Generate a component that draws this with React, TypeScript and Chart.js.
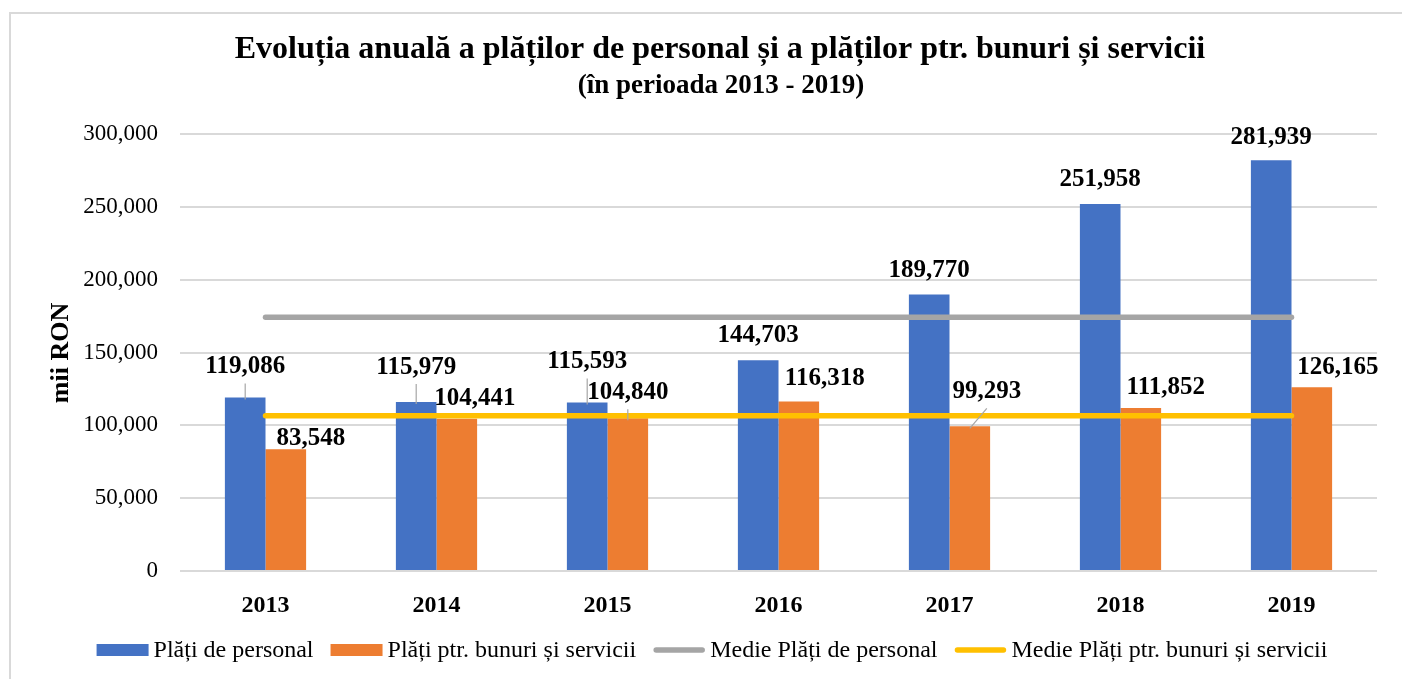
import React, { useEffect, useRef } from "react";
import { Chart, registerables } from "chart.js";

Chart.register(...registerables);

// ---- data ----
const years = ["2013", "2014", "2015", "2016", "2017", "2018", "2019"];
const platiPersonal = [119086, 115979, 115593, 144703, 189770, 251958, 281939];
const platiBunuri = [83548, 104441, 104840, 116318, 99293, 111852, 126165];
const mediePersonal = [174147, 174147, 174147, 174147, 174147, 174147, 174147];
const medieBunuri = [106637, 106637, 106637, 106637, 106637, 106637, 106637];
const yMin = 0;
const yMax = 300000;
const yStep = 50000;

const seriesNames = [
  "Plăți de personal",
  "Plăți ptr. bunuri și servicii",
  "Medie Plăți de personal",
  "Medie Plăți ptr. bunuri și servicii",
];
const titleText = "Evoluția anuală a plăților de personal și a plăților ptr. bunuri și servicii";
const subtitleText = "(în perioada 2013 - 2019)";
const yAxisTitle = "mii RON";

// ---- styles ----
const FONT = '"Liberation Serif", "Times New Roman", serif';
const colors = ["#4472C4", "#ED7D31", "#A5A5A5", "#FFC000"];

// label placement tweaks (pixels, relative to default position above bar)
const labelOffsets = [
  {
    dx: [0, 0, 0, 0, 0, 0, 0],
    dy: [-8, -12, -18, -2, -1, -1, 0],
    leader: [true, true, true, false, false, false, false],
  },
  {
    dx: [25, 18, 0, 26, 17, 25, 26],
    dy: [12, 3, -3, 0, -12, 2, 3],
    leader: [false, false, true, false, true, false, false],
  },
];

const fmt = (v: number) => Number(v).toLocaleString("en-US");

const decorPlugin = {
  id: "decor",
  beforeDraw(chart: any) {
    const ctx = chart.ctx as CanvasRenderingContext2D;
    ctx.save();
    ctx.fillStyle = "#ffffff";
    ctx.fillRect(0, 0, chart.width, chart.height);
    // frame
    ctx.strokeStyle = "#d9d9d9";
    ctx.lineWidth = 2;
    ctx.beginPath();
    ctx.moveTo(10, chart.height + 5);
    ctx.lineTo(10, 13);
    ctx.lineTo(chart.width + 5, 13);
    ctx.stroke();
    ctx.restore();
  },
  afterDraw(chart: any) {
    const ctx = chart.ctx as CanvasRenderingContext2D;
    ctx.save();
    ctx.fillStyle = "#000";
    ctx.textAlign = "center";
    ctx.textBaseline = "middle";
    // titles
    ctx.font = `bold 32px ${FONT}`;
    ctx.fillText(titleText, 720, 50);
    ctx.font = `bold 27px ${FONT}`;
    ctx.fillText(subtitleText, 721, 86);
    // y axis title
    ctx.save();
    ctx.translate(61, 353);
    ctx.rotate(-Math.PI / 2);
    ctx.font = `bold 26px ${FONT}`;
    ctx.fillText(yAxisTitle, 0, 0);
    ctx.restore();

    // legend
    ctx.font = `24px ${FONT}`;
    const boxW = 52;
    const gapText = 5;
    const gapItem = 17;
    const widths = seriesNames.map((n) => ctx.measureText(n).width);
    const total =
      widths.reduce((a, b) => a + b, 0) + seriesNames.length * (boxW + gapText) + (seriesNames.length - 1) * gapItem;
    let x = 712 - total / 2;
    const ly = 650;
    ctx.textAlign = "left";
    seriesNames.forEach((name, i) => {
      if (i < 2) {
        ctx.fillStyle = colors[i];
        ctx.fillRect(x, ly - 6, boxW, 12);
      } else {
        ctx.strokeStyle = colors[i];
        ctx.lineWidth = 5.5;
        ctx.lineCap = "round";
        ctx.beginPath();
        ctx.moveTo(x + 3, ly);
        ctx.lineTo(x + boxW - 3, ly);
        ctx.stroke();
      }
      x += boxW + gapText;
      ctx.fillStyle = "#000";
      ctx.fillText(name, x, ly + 1);
      x += widths[i] + gapItem;
    });
    ctx.restore();
  },
};

const labelPlugin = {
  id: "barLabels",
  afterDatasetsDraw(chart: any) {
    const ctx = chart.ctx as CanvasRenderingContext2D;
    ctx.save();
    [0, 1].forEach((di) => {
      const meta = chart.getDatasetMeta(di);
      const vals = chart.data.datasets[di].data as number[];
      const off = labelOffsets[di];
      meta.data.forEach((bar: any, i: number) => {
        const { x, y } = bar.getProps(["x", "y"], true);
        const lx = x + off.dx[i];
        const ly = y - 23 + off.dy[i];
        if (off.leader[i]) {
          ctx.strokeStyle = "#a6a6a6";
          ctx.lineWidth = 1.2;
          ctx.beginPath();
          ctx.moveTo(lx, ly + 17);
          ctx.lineTo(x, y + 2);
          ctx.stroke();
        }
        ctx.fillStyle = "#000";
        ctx.font = `bold 25px ${FONT}`;
        ctx.textAlign = "center";
        ctx.textBaseline = "middle";
        ctx.fillText(fmt(vals[i]), lx, ly);
      });
    });
    ctx.restore();
  },
};

export default function App() {
  const canvasRef = useRef<HTMLCanvasElement | null>(null);

  useEffect(() => {
    if (!canvasRef.current) return;
    const chart = new Chart(canvasRef.current, {
      type: "bar",
      data: {
        labels: years,
        datasets: [
          {
            type: "bar",
            label: seriesNames[0],
            data: platiPersonal,
            backgroundColor: colors[0],
            categoryPercentage: 0.475,
            barPercentage: 1,
            order: 2,
          },
          {
            type: "bar",
            label: seriesNames[1],
            data: platiBunuri,
            backgroundColor: colors[1],
            categoryPercentage: 0.475,
            barPercentage: 1,
            order: 2,
          },
          {
            type: "line",
            label: seriesNames[2],
            data: mediePersonal,
            borderColor: colors[2],
            backgroundColor: colors[2],
            borderWidth: 5.5,
            borderCapStyle: "round",
            pointRadius: 0,
            pointHoverRadius: 0,
            fill: false,
            order: 1,
          },
          {
            type: "line",
            label: seriesNames[3],
            data: medieBunuri,
            borderColor: colors[3],
            backgroundColor: colors[3],
            borderWidth: 5.5,
            borderCapStyle: "round",
            pointRadius: 0,
            pointHoverRadius: 0,
            fill: false,
            order: 1,
          },
        ] as any,
      },
      options: {
        animation: false,
        responsive: false,
        devicePixelRatio: 1,
        layout: { padding: { left: 10, right: 25, top: 134, bottom: 58 } },
        plugins: {
          legend: { display: false },
          title: { display: false },
          tooltip: { enabled: false },
        },
        scales: {
          x: {
            grid: { display: false },
            border: { display: false },
            ticks: {
              color: "#000",
              font: { family: FONT, size: 24, weight: "bold" },
              padding: 12,
            },
            afterFit: (s: any) => {
              s.height = 50;
            },
          },
          y: {
            min: yMin,
            max: yMax,
            ticks: {
              stepSize: yStep,
              color: "#000",
              font: { family: FONT, size: 23 },
              padding: 22,
              callback: (v: any) => fmt(v),
            },
            grid: { color: "#d9d9d9", lineWidth: 2, drawTicks: false },
            border: { display: false },
            afterFit: (s: any) => {
              s.width = 170;
            },
          },
        },
      } as any,
      plugins: [decorPlugin, labelPlugin],
    });
    return () => chart.destroy();
  }, []);

  return (
    <div style={{ position: "fixed", left: 0, top: 0, width: 1402, height: 679, background: "#fff" }}>
      <canvas ref={canvasRef} width={1402} height={679} style={{ display: "block", width: 1402, height: 679 }} />
    </div>
  );
}
